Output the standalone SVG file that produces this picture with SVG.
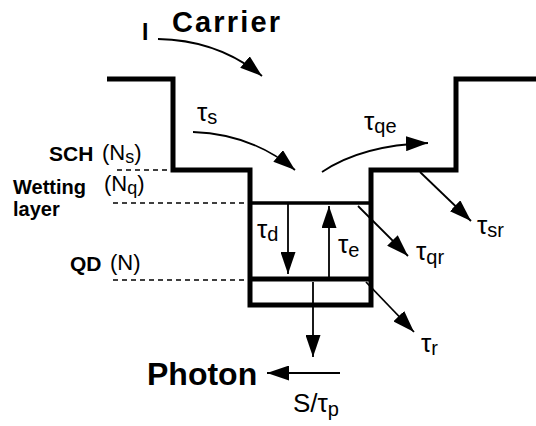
<svg xmlns="http://www.w3.org/2000/svg" width="536" height="426" viewBox="0 0 536 426">
<defs>
<marker id="ah" markerUnits="userSpaceOnUse" markerWidth="22" markerHeight="15" refX="22" refY="7.5" orient="auto">
<path d="M0,0 L22,7.5 L0,15 Z" fill="#000"/>
</marker>
<style>
.well{fill:none;stroke:#000;stroke-width:5;stroke-linejoin:miter}
.lvl{fill:none;stroke:#000}
.dash{fill:none;stroke:#000;stroke-width:1.6;stroke-dasharray:5,4}
.arr{fill:none;stroke:#000;stroke-width:1.8;marker-end:url(#ah)}
.bold{font-family:"Liberation Sans",Arial,sans-serif;font-weight:bold;fill:#000}
.reg{font-family:"Liberation Sans",Arial,sans-serif;fill:#000}
.tau{font-family:"Liberation Sans",Arial,sans-serif;font-size:26px;fill:#000}
.sub{font-size:20px}
</style>
</defs>
<rect width="536" height="426" fill="#fff"/>
<g id="well">
<path class="well" d="M107,79 H173 V170 H250 V305 H371 V170 H456 V79 H536"/>
<line class="lvl" x1="250" y1="203" x2="371" y2="203" stroke-width="3.5"/>
<line class="lvl" x1="250" y1="279" x2="371" y2="279" stroke-width="5"/>
</g>
<g id="levels-labels">
<line class="dash" x1="117" y1="170" x2="170" y2="170"/>
<line class="dash" x1="113" y1="203" x2="248" y2="203"/>
<line class="dash" x1="113" y1="280" x2="248" y2="280"/>
<text class="bold" x="49" y="161" font-size="21">SCH</text>
<text class="reg" x="102" y="160" font-size="22">(N<tspan font-size="18" dy="3">s</tspan><tspan dy="-3">)</tspan></text>
<text class="bold" x="13" y="194" font-size="20">Wetting</text>
<text class="bold" x="13" y="216" font-size="20">layer</text>
<text class="reg" x="104" y="191" font-size="22">(N<tspan font-size="18" dy="3">q</tspan><tspan dy="-3">)</tspan></text>
<text class="bold" x="70" y="271" font-size="21">QD</text>
<text class="reg" x="110" y="270" font-size="22">(N)</text>
</g>
<g id="carrier">
<text class="bold" x="142" y="40" font-size="23">I</text>
<text class="bold" x="172" y="32" font-size="29" textLength="108" lengthAdjust="spacing">Carrier</text>
</g>
<g id="photon">
<text class="bold" x="147" y="385" font-size="32">Photon</text>
<text class="reg" x="293" y="412" font-size="26">S/τ<tspan font-size="20" dy="4">p</tspan></text>
</g>
<g id="connectors">
<path class="arr" d="M158,39 Q218,40 262,76"/>
<path class="arr" d="M193,132 Q252,134 295,170"/>
<path class="arr" d="M322,172 Q362,145 428,143"/>
<line class="arr" x1="420" y1="172" x2="471" y2="221"/>
<line class="arr" x1="358" y1="206" x2="408" y2="256"/>
<line class="arr" x1="288" y1="204" x2="288" y2="274"/>
<line class="arr" x1="329" y1="277" x2="329" y2="206"/>
<line class="arr" x1="366" y1="282" x2="414" y2="332"/>
<line class="arr" x1="313" y1="282" x2="313" y2="357"/>
<line class="arr" x1="340" y1="373" x2="267" y2="373"/>
</g>
<g id="tau-labels">
<text class="tau" x="197" y="121">τ<tspan class="sub" dy="3">s</tspan></text>
<text class="tau" x="364" y="130">τ<tspan class="sub" dy="3">qe</tspan></text>
<text class="tau" x="477" y="234">τ<tspan class="sub" dy="3">sr</tspan></text>
<text class="tau" x="416" y="260">τ<tspan class="sub" dy="4">qr</tspan></text>
<text class="tau" x="257" y="238">τ<tspan class="sub" dy="3">d</tspan></text>
<text class="tau" x="338" y="253">τ<tspan class="sub" dy="4">e</tspan></text>
<text class="tau" x="421" y="352">τ<tspan class="sub" dy="3">r</tspan></text>
</g>
</svg>
